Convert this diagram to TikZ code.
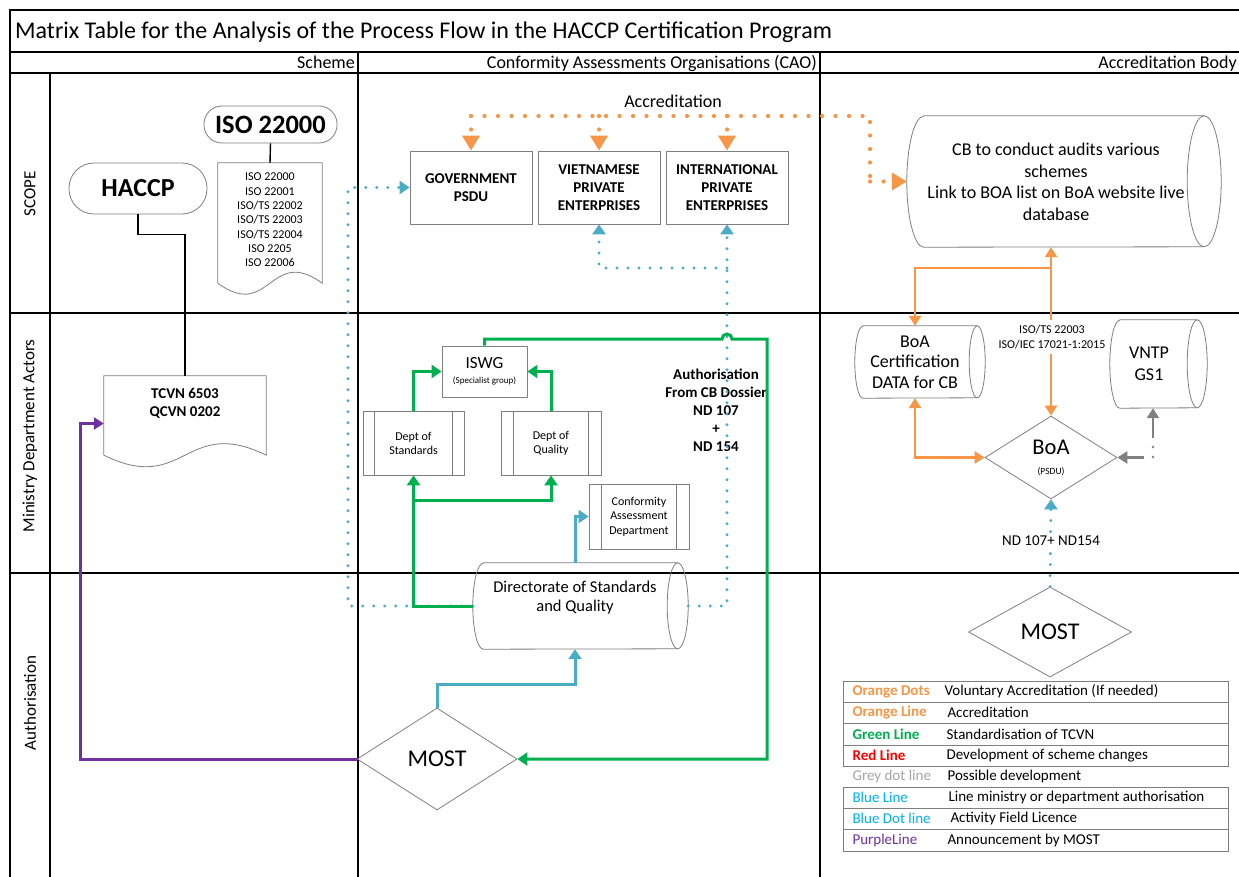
\documentclass[tikz,border=0pt]{standalone}
\usepackage{fontspec}
\setmainfont{Carlito}
\usetikzlibrary{arrows.meta,shapes.geometric,calc}

\definecolor{accorange}{HTML}{F79646}
\definecolor{stdgreen}{HTML}{00B050}
\definecolor{authblue}{HTML}{4BACC6}
\definecolor{legblue}{HTML}{00B0F0}
\definecolor{mostpurple}{HTML}{7030A0}
\definecolor{outline}{HTML}{7F7F7F}
\definecolor{devgrey}{HTML}{808080}
\definecolor{greytext}{HTML}{A6A6A6}
\definecolor{redline}{HTML}{FF0000}

\newcommand\setfs[2]{\fontsize{#1}{#2}\selectfont}

% horizontal storage cylinder drawn round an empty node: name, end radius, half height
\newcommand\dacyl[3]{%
  \draw[shapeline] ($(#1.north west)+(#2,0)$) -- ($(#1.north east)-(#2,0)$)
    arc[start angle=90,end angle=-90,x radius=#2pt,y radius=#3pt]
    -- ($(#1.south west)+(#2,0)$)
    arc[start angle=270,end angle=90,x radius=#2pt,y radius=#3pt] -- cycle;
  \draw[shapeline] ($(#1.north east)-(#2,0)$)
    arc[start angle=90,end angle=270,x radius=#2pt,y radius=#3pt];}

% document outline with a wavy lower edge: name, wave control offset
\newcommand\docshape[2]{%
  \draw[shapeline] (#1.south west) -- (#1.north west) -- (#1.north east) -- (#1.south east)
    .. controls ($(#1.south)+(0,-#2)$) and ($(#1.south)+(0,#2)$) .. (#1.south west);}

% process box: the two inner bars
\newcommand\procbars[2]{%
  \draw[shapeline] ([xshift=#2pt]#1.north west) -- ([xshift=#2pt]#1.south west);
  \draw[shapeline] ([xshift=-#2pt]#1.north east) -- ([xshift=-#2pt]#1.south east);}

\tikzset{
  frameline/.style={line width=1.6pt, black},
  shapeline/.style={draw=outline, line width=0.8pt},
  boxnode/.style={shapeline, rectangle, inner sep=0pt, align=center},
  decnode/.style={shapeline, diamond, inner sep=0pt, aspect=1.6, align=center},
  blank/.style={inner sep=0pt, rectangle},
  conn/.style={line width=1.4pt, black},
  odots/.style={accorange, line width=4.2pt, line cap=round, dash pattern=on 0pt off 13.5pt},
  bdots/.style={authblue, line width=3.2pt, line cap=round, dash pattern=on 0pt off 11pt},
  oline/.style={accorange, line width=2.8pt},
  gline/.style={stdgreen, line width=3pt, -{Triangle[length=10pt,width=13pt]}},
  bline/.style={authblue, line width=3pt, -{Triangle[length=10pt,width=13pt]}},
  pline/.style={mostpurple, line width=3pt, -{Triangle[length=10pt,width=12pt]}},
  gyline/.style={devgrey, line width=2.8pt, -{Triangle[length=10pt,width=12pt]}},
  arrowOd/.style={-{Triangle[length=15pt,width=17pt]}},
  arrowBd/.style={-{Triangle[length=10pt,width=13pt]}},
  arrowO/.style={-{Triangle[length=10pt,width=12pt]}},
  arrowOO/.style={{Triangle[length=10pt,width=12pt]}-{Triangle[length=10pt,width=12pt]}},
  legline/.style={draw=outline, line width=0.8pt},
  legkey/.style={anchor=west, font=\setfs{15}{18}},
  legtext/.style={anchor=west, font=\setfs{15}{18}},
  headtext/.style={anchor=base east, inner sep=0pt, font=\setfs{18}{21}},
}

\begin{document}
\begin{tikzpicture}[x=1pt, y=-1pt, font=\setfs{12}{14.3}]
\useasboundingbox (0,0) rectangle (1239,877);
\clip (0,0) rectangle (1239,877);
\fill[white] (0,0) rectangle (1239,877);

% ---------- swimlane frame ----------
\draw[frameline] (10,880) -- (10,10) -- (1250,10);
\draw[frameline] (10,52) -- (1250,52);
\draw[frameline] (10,73) -- (1250,73);
\draw[frameline] (50,73) -- (50,880);
\draw[frameline] (358,52) -- (358,880);
\draw[frameline] (820,52) -- (820,880);
\draw[frameline] (10,313) -- (1250,313);
\draw[frameline] (10,573) -- (1250,573);

\node[anchor=base west, inner sep=0pt, font=\setfs{24}{28}] (title) at (15,39)
  {Matrix Table for the Analysis of the Process Flow in the HACCP Certification Program};
\node[headtext] (hscheme) at (355,69) {Scheme};
\node[headtext] (hcao) at (817,69) {Conformity Assessments Organisations (CAO)};
\node[headtext] (hab) at (1237,69) {Accreditation Body};

\node[rotate=90, font=\setfs{17}{20}] (rscope) at (30,194) {SCOPE};
\node[rotate=90, font=\setfs{17}{20}] (rmin) at (30,436) {Ministry Department Actors};
\node[rotate=90, font=\setfs{17}{20}] (rauth) at (30,703) {Authorisation};

% ---------- Scheme column ----------
\node[shapeline, rectangle, rounded corners=25pt, minimum width=138pt, minimum height=51pt,
      inner sep=0pt, font=\bfseries\setfs{26}{30}] (haccp) at (138,188.5) {HACCP};
\node[shapeline, rectangle, rounded corners=18pt, minimum width=133pt, minimum height=37pt,
      inner sep=0pt, font=\bfseries\setfs{26.5}{30}] (iso) at (270.5,124.5) {ISO 22000};

\node[blank, minimum width=104pt, minimum height=120pt] (isolist) at (270,223) {};
\docshape{isolist}{38}
\node[align=center, font=\setfs{12}{14.3}] (isotext) at (270,220)
  {ISO 22000\\ISO 22001\\ISO/TS 22002\\ISO/TS 22003\\ISO/TS 22004\\ISO 2205\\ISO 22006};

\node[blank, minimum width=162pt, minimum height=79pt] (tcvn) at (185,415.5) {};
\docshape{tcvn}{40}
\node[align=center, font=\bfseries\setfs{15}{17.7}] (tcvntext) at (185,403) {TCVN 6503\\QCVN 0202};

\draw[conn] (iso.south) -- (isolist.north);
\draw[conn] (haccp.south) -- ++(0,20) -| (tcvn.north);

% ---------- CAO column ----------
\node[font=\setfs{18}{21}] (acclabel) at (673,101) {Accreditation};

\node[boxnode, minimum width=122pt, minimum height=73pt, font=\bfseries\setfs{15}{18}] (gov) at (471,187.5) {GOVERNMENT\\PSDU};
\node[boxnode, minimum width=122pt, minimum height=73pt, font=\bfseries\setfs{15}{18}] (viet) at (599,187.5) {VIETNAMESE\\PRIVATE\\ENTERPRISES};
\node[boxnode, minimum width=122pt, minimum height=73pt, font=\bfseries\setfs{15}{18}] (intl) at (727,187.5) {INTERNATIONAL\\PRIVATE\\ENTERPRISES};

\node[boxnode, minimum width=85pt, minimum height=51pt, font=\setfs{9}{15}] (iswg) at (484.5,371.5)
  {{\setfs{17}{20}ISWG}\\(Specialist group)};
\node[boxnode, minimum width=101pt, minimum height=64pt, font=\setfs{12}{14}] (dstd) at (413.5,443) {Dept of\\Standards};
\procbars{dstd}{12}
\node[boxnode, minimum width=100pt, minimum height=64pt, font=\setfs{12}{14}] (dqual) at (551,443) {Dept of\\Quality};
\procbars{dqual}{13}
\node[boxnode, minimum width=100pt, minimum height=65pt, font=\setfs{12}{14.5}] (caq) at (639,516.5) {Conformity\\Assessment\\Department};
\procbars{caq}{13}

\node[blank, minimum width=215pt, minimum height=86pt] (dsq) at (580.5,606) {};
\dacyl{dsq}{10.5}{43}
\node[align=center, font=\setfs{16.5}{19}] (dsqtext) at (575,598) {Directorate of Standards\\and Quality};

\node[decnode, minimum width=160pt, minimum height=102pt, font=\setfs{24}{27}] (most) at (437,759) {MOST};

\node[align=center, font=\bfseries\setfs{15}{18}] (authtext) at (716,410)
  {Authorisation\\From CB Dossier\\ND 107\\+\\ND 154};

% ---------- Accreditation Body column ----------
\node[blank, minimum width=314pt, minimum height=131pt] (cb) at (1064,181.5) {};
\dacyl{cb}{17}{65.5}
\node[align=center, font=\setfs{18}{21.6}] (cbtext) at (1056,182)
  {CB to conduct audits various\\schemes\\Link to BOA list on BoA website live\\database};

\node[blank, minimum width=130pt, minimum height=72pt] (boacert) at (920,362) {};
\dacyl{boacert}{8}{36}
\node[align=center, font=\setfs{18}{20.7}] (boacerttext) at (915,362) {BoA\\Certification\\DATA for CB};

\node[blank, minimum width=97pt, minimum height=88pt] (vntp) at (1158.5,364) {};
\dacyl{vntp}{10}{44}
\node[align=center, font=\setfs{18}{22}] (vntptext) at (1149,364) {VNTP\\GS1};

\node[decnode, minimum width=132pt, minimum height=83pt, font=\setfs{9.5}{20}] (boa) at (1051,457.5)
  {{\setfs{22.5}{24}BoA}\\(PSDU)};
\node[decnode, minimum width=163pt, minimum height=90pt, font=\setfs{24}{27}] (most2) at (1050,632) {MOST};

% ---------- helper coordinates ----------
\coordinate (yacc) at (0,116);
\coordinate (xacc) at (870,0);
\coordinate (ybranch) at (0,268);
\coordinate (xleft) at (348,0);
\coordinate (ytop) at (0,339);
\coordinate (xright) at (767,0);
\coordinate (ysplit) at (0,500);
\coordinate (ymost) at (0,684);
\coordinate (xpurple) at (80,0);
\coordinate (yorange) at (0,268);
\coordinate (ygrey) at (0,438);
\coordinate (xgrey) at (1144,0);

% ---------- orange dots: voluntary accreditation ----------
\draw[odots] (gov.north |- yacc) -- (xacc |- yacc) -- (xacc |- cb.west);
\draw[odots, arrowOd] (xacc |- cb.west) -- (cb.west);
\draw[odots, arrowOd] (gov.north |- yacc) -- (gov.north);
\draw[odots, arrowOd] (viet.north |- yacc) -- (viet.north);
\draw[odots, arrowOd] (intl.north |- yacc) -- (intl.north);

% ---------- blue dots: activity field licence ----------
\draw[bdots, arrowBd] (dsq.west) -- (xleft |- dsq.west) |- (gov.west);
\draw[bdots, arrowBd] (dsq.east) -| (intl.south);
\draw[bdots, arrowBd] (intl.south |- ybranch) -| (viet.south);
\draw[bdots, arrowBd] (most2.north) -- (boa.south);
\node[fill=white, inner sep=2pt, font=\setfs{15}{18}] (ndlabel) at (1051,541) {ND 107+ ND154};

% ---------- green: standardisation ----------
\draw[gline] (dstd.north) |- (iswg.west);
\draw[gline] (dqual.north) |- (iswg.east);
\draw[gline] (dsq.west) -| (dstd.south);
\draw[gline] (dstd.south |- ysplit) -| (dqual.south);
\draw[gline] (iswg.north) -- (iswg.north |- ytop) -- ($(intl.south |- ytop)+(-5,0)$)
  arc[start angle=180,end angle=0,radius=5pt] -- (xright |- ytop) -- (xright |- most.east) -- (most.east);

% ---------- blue: line ministry authorisation ----------
\draw[bline] ([xshift=-5.5pt]dsq.north) |- (caq.west);
\draw[bline] (most.north) -- (most.north |- ymost) -| ([xshift=-5.5pt]dsq.south);

% ---------- purple: announcement by MOST ----------
\draw[pline] (most.west) -- (xpurple |- most.west) |- ([yshift=-8pt]tcvn.west);

% ---------- orange: accreditation ----------
\draw[oline, arrowOO] (boa.north) -- (boa.north |- cb.south);
\draw[oline, arrowO] (boa.north |- yorange) -| ([xshift=-5pt]boacert.north);
\draw[oline, arrowOO] ([xshift=-5pt]boacert.south) |- (boa.west);
\node[fill=white, inner xsep=2pt, inner ysep=5pt, align=center, font=\setfs{12}{14.3}] (isolabel) at (1052,337)
  {ISO/TS 22003\\ISO/IEC 17021-1:2015};

% ---------- grey: possible development ----------
\draw[gyline] ([xshift=-5.5pt]vntp.south |- ygrey) -- ([xshift=-5.5pt]vntp.south);
\fill[devgrey] (1153,447) circle (1.3pt);
\fill[devgrey] (1153,457) circle (1.3pt);
\draw[gyline] (xgrey |- boa.east) -- (boa.east);

% ---------- legend ----------
\draw[legline] (843,681) rectangle (1228,766);
\draw[legline] (843,702) -- (1228,702);
\draw[legline] (843,723) -- (1228,723);
\draw[legline] (843,745) -- (1228,745);
\draw[legline] (843,787) rectangle (1228,851);
\draw[legline] (843,808) -- (1228,808);
\draw[legline] (843,829) -- (1228,829);

\node[legkey, text=accorange, font=\bfseries\setfs{15}{18}] (k1) at (849,691.5) {Orange Dots};
\node[legtext] (t1) at (941,691.5) {Voluntary Accreditation (If needed)};
\node[legkey, text=accorange, font=\bfseries\setfs{15}{18}] (k2) at (849,712.5) {Orange Line};
\node[legtext] (t2) at (944,712.5) {Accreditation};
\node[legkey, text=stdgreen, font=\bfseries\setfs{15}{18}] (k3) at (849,734) {Green Line};
\node[legtext] (t3) at (943,734) {Standardisation of TCVN};
\node[legkey, text=redline, font=\bfseries\setfs{15}{18}] (k4) at (849,755.5) {Red Line};
\node[legtext] (t4) at (943,755.5) {Development of scheme changes};
\node[legkey, text=greytext] (k5) at (849,776.5) {Grey dot line};
\node[legtext] (t5) at (944,776.5) {Possible development};
\node[legkey, text=legblue] (k6) at (849,797.5) {Blue Line};
\node[legtext] (t6) at (945,797.5) {Line ministry or department authorisation};
\node[legkey, text=legblue] (k7) at (849,818.5) {Blue Dot line};
\node[legtext] (t7) at (947,818.5) {Activity Field Licence};
\node[legkey, text=mostpurple] (k8) at (849,840) {PurpleLine};
\node[legtext] (t8) at (944,840) {Announcement by MOST};
\end{tikzpicture}
\end{document}
